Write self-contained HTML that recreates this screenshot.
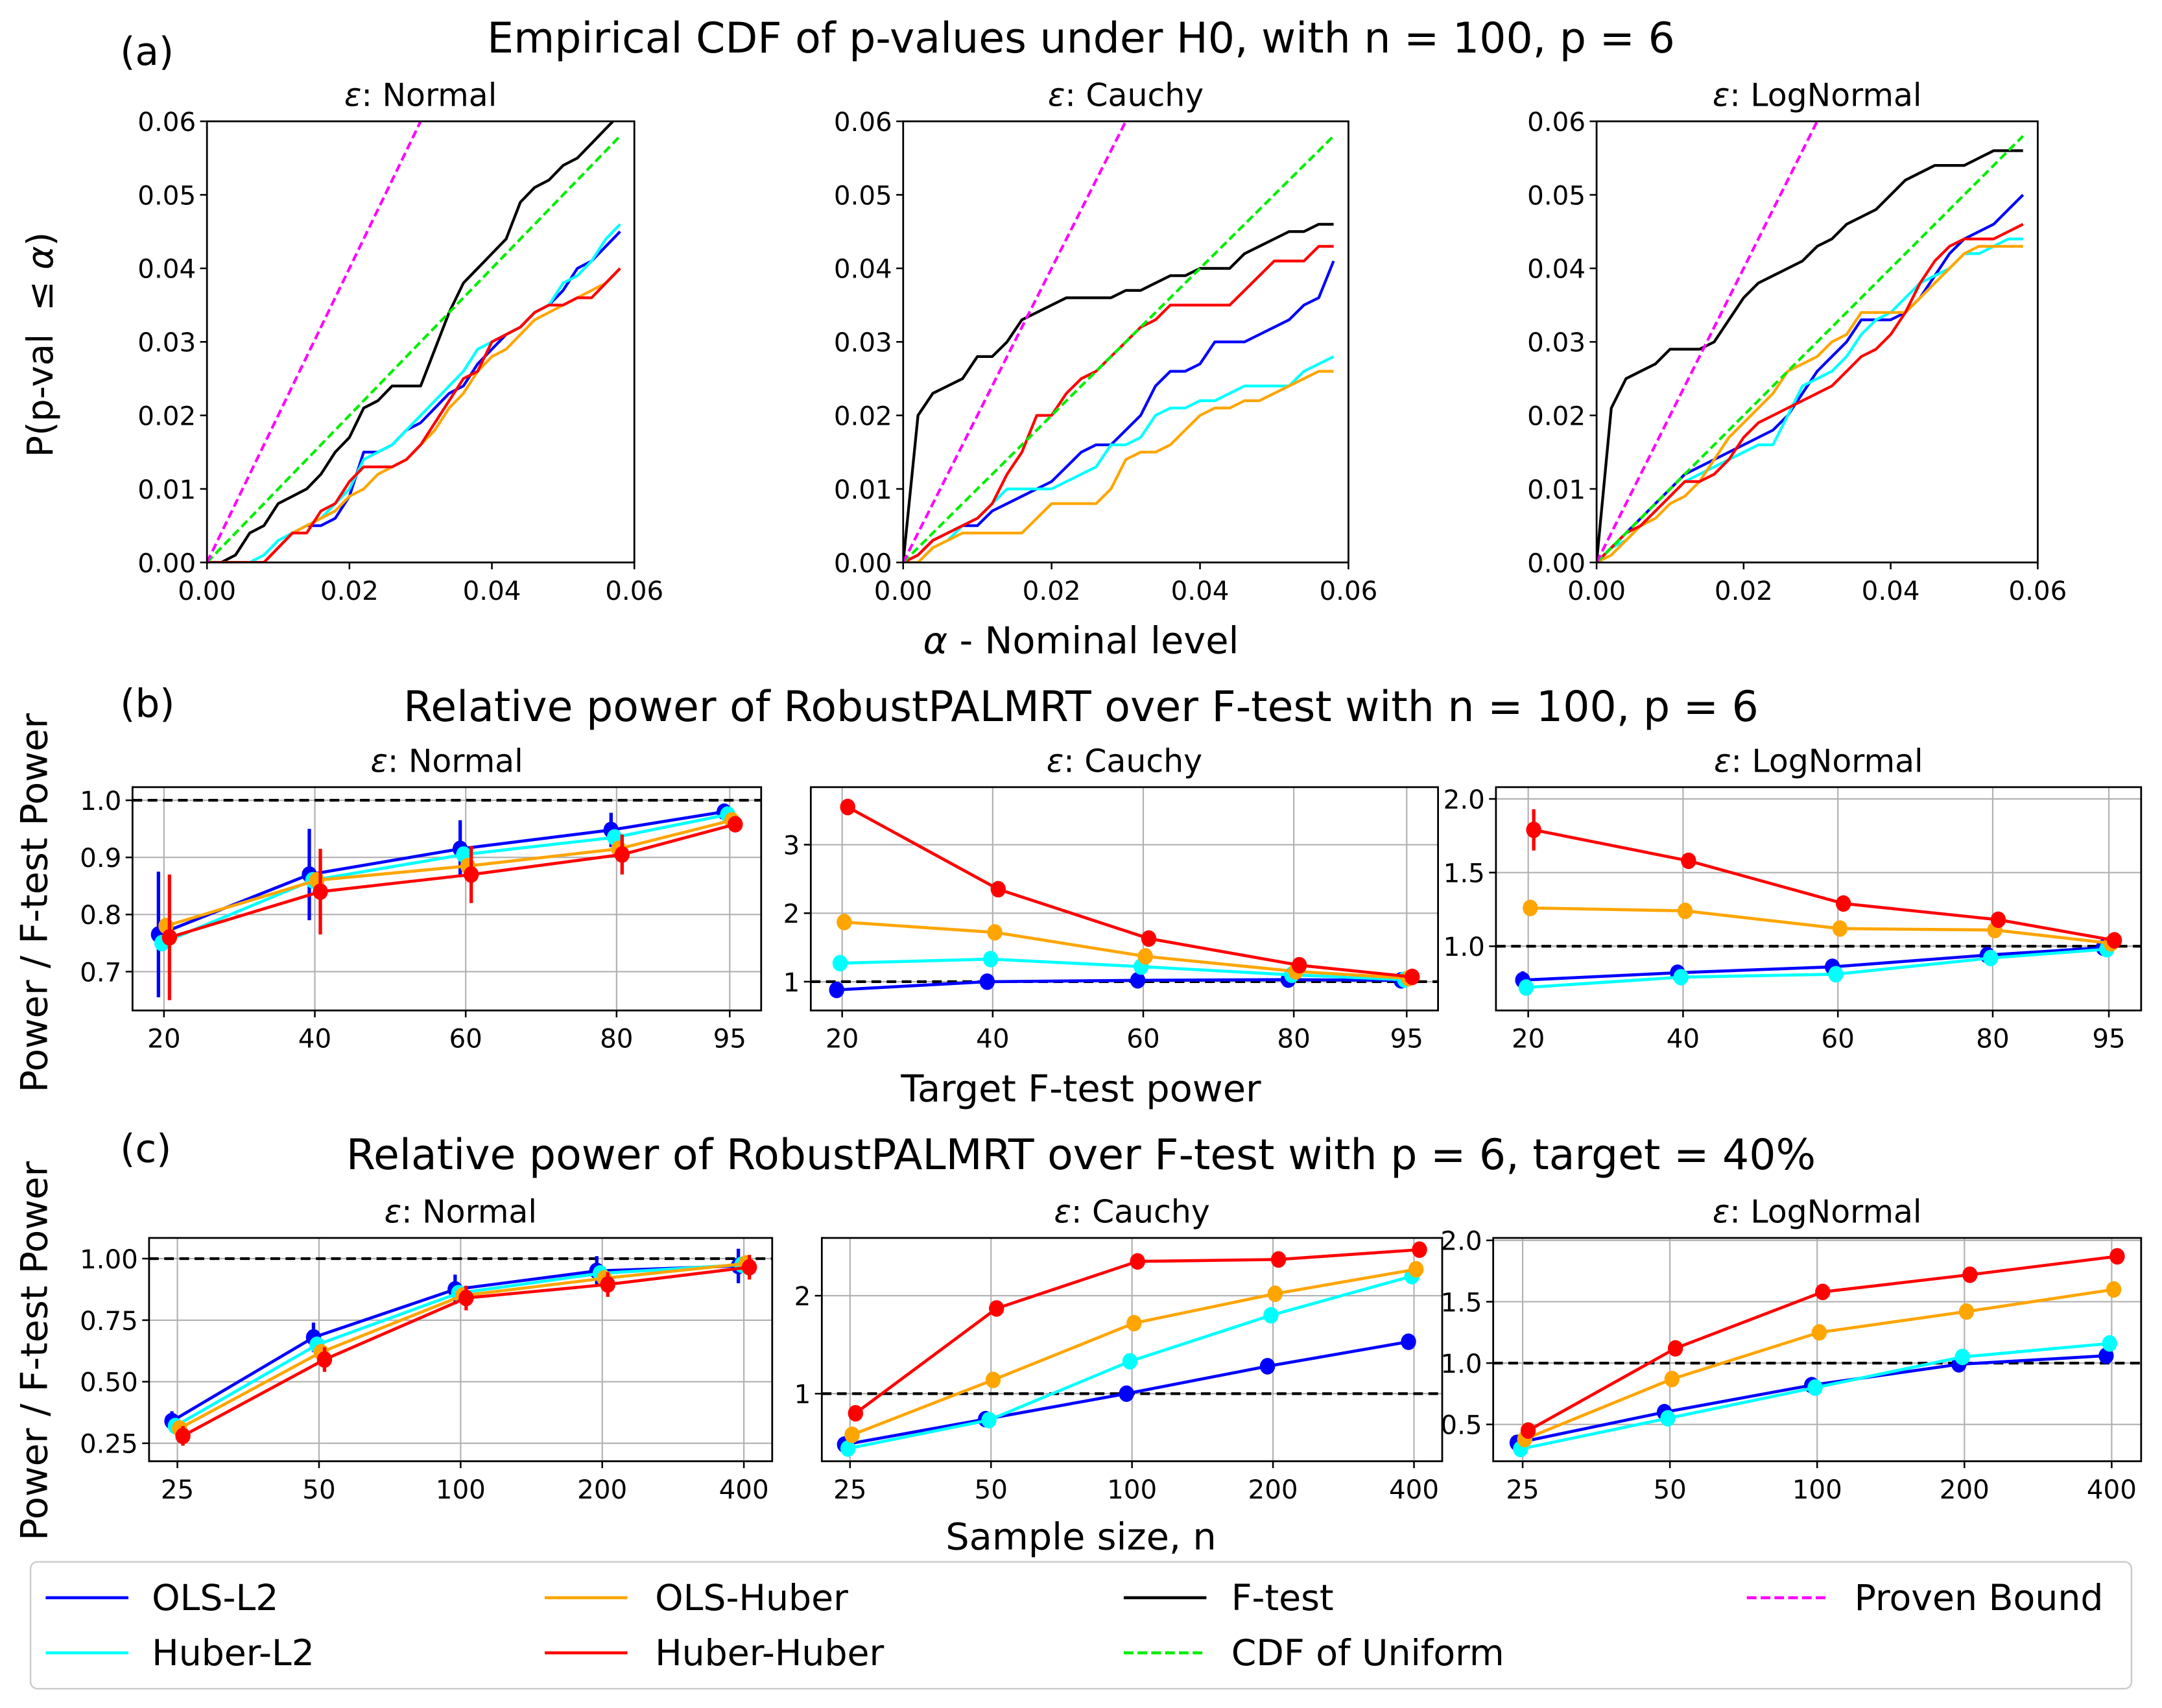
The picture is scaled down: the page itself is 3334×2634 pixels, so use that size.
<!DOCTYPE html>
<html><head><meta charset="utf-8">
<style>
html,body{margin:0;padding:0;background:#fff;}
svg{display:block;}
text{font-family:"DejaVu Sans","Liberation Sans",sans-serif;fill:#000;}
</style></head>
<body>
<svg id="fig" width="3334" height="2634" viewBox="0 0 1568 1239" xmlns="http://www.w3.org/2000/svg">
<rect width="1568" height="1239" fill="#fff"/>
<text x="87" y="47" font-size="28">(a)</text>
<text x="784" y="38" font-size="30.5" text-anchor="middle">Empirical CDF of p-values under H0, with n = 100, p = 6</text>
<text x="87" y="520" font-size="28">(b)</text>
<text x="784" y="523" font-size="30.5" text-anchor="middle">Relative power of RobustPALMRT over F-test with n = 100, p = 6</text>
<text x="87" y="843" font-size="28">(c)</text>
<text x="784" y="848" font-size="30.5" text-anchor="middle">Relative power of RobustPALMRT over F-test with p = 6, target = 40%</text>
<text transform="translate(38,250) rotate(-90)" font-size="26" text-anchor="middle" xml:space="preserve">P(p-val  ≤ <tspan font-style="italic">α</tspan>)</text>
<text x="784" y="474" font-size="27" text-anchor="middle"><tspan font-style="italic">α</tspan> - Nominal level</text>
<text transform="translate(34,655) rotate(-90)" font-size="27" text-anchor="middle">Power / F-test Power</text>
<text x="784" y="799" font-size="27" text-anchor="middle">Target F-test power</text>
<text transform="translate(34,980) rotate(-90)" font-size="27" text-anchor="middle">Power / F-test Power</text>
<text x="784" y="1124" font-size="27" text-anchor="middle">Sample size, n</text>
<g id="legend">
<rect x="22" y="1133" width="1524" height="92" rx="5" fill="#fff" stroke="#ccc" stroke-width="1.2"/>
<g><line x1="33" y1="1159" x2="93" y2="1159" stroke="#0000ff" stroke-width="2.2"/><text x="110" y="1168" font-size="26">OLS-L2</text></g>
<g><line x1="33" y1="1199" x2="93" y2="1199" stroke="#00ffff" stroke-width="2.2"/><text x="110" y="1208" font-size="26">Huber-L2</text></g>
<g><line x1="395" y1="1159" x2="455" y2="1159" stroke="#ffa500" stroke-width="2.2"/><text x="475" y="1168" font-size="26">OLS-Huber</text></g>
<g><line x1="395" y1="1199" x2="455" y2="1199" stroke="#ff0000" stroke-width="2.2"/><text x="475" y="1208" font-size="26">Huber-Huber</text></g>
<g><line x1="815" y1="1159" x2="875" y2="1159" stroke="#000" stroke-width="2.2"/><text x="893" y="1168" font-size="26">F-test</text></g>
<g><line x1="815" y1="1199" x2="875" y2="1199" stroke="#00ee00" stroke-width="2.2" stroke-dasharray="7,3"/><text x="893" y="1208" font-size="26">CDF of Uniform</text></g>
<g><line x1="1267" y1="1159" x2="1327" y2="1159" stroke="#ff00ff" stroke-width="2.2" stroke-dasharray="7,3"/><text x="1345" y="1168" font-size="26">Proven Bound</text></g>
</g>
</svg>
<script>
// ---------- Row (a) data ----------
const alphas = [0,.002,.004,.006,.008,.010,.012,.014,.016,.018,.020,.022,.024,.026,.028,.030,.032,.034,.036,.038,.040,.042,.044,.046,.048,.050,.052,.054,.056,.058];
const aNormalF = [0,0,.001,.004,.005,.008,.009,.010,.012,.015,.017,.021,.022,.024,.024,.024,.029,.034,.038,.040,.042,.044,.049,.051,.052,.054,.055,.057,.059,.061];
const aNormalOLSL2 = [0,0,0,0,0,.002,.004,.005,.005,.006,.009,.015,.015,.016,.018,.019,.021,.023,.024,.027,.029,.031,.032,.034,.035,.037,.040,.041,.043,.045];
const aNormalHuberL2 = [0,0,0,0,.001,.003,.004,.005,.006,.008,.010,.014,.015,.016,.018,.020,.022,.024,.026,.029,.030,.031,.032,.034,.035,.038,.039,.041,.044,.046];
const aNormalOLSHuber = [0,0,0,0,0,.002,.004,.005,.006,.007,.009,.010,.012,.013,.014,.016,.018,.021,.023,.026,.028,.029,.031,.033,.034,.035,.036,.037,.038,.040];
const aNormalHuberHuber = [0,0,0,0,0,.002,.004,.004,.007,.008,.011,.013,.013,.013,.014,.016,.019,.022,.025,.026,.030,.031,.032,.034,.035,.035,.036,.036,.038,.040];
const aCauchyF = [0,.020,.023,.024,.025,.028,.028,.030,.033,.034,.035,.036,.036,.036,.036,.037,.037,.038,.039,.039,.040,.040,.040,.042,.043,.044,.045,.045,.046,.046];
const aCauchyOLSL2 = [0,.001,.003,.004,.005,.005,.007,.008,.009,.010,.011,.013,.015,.016,.016,.018,.020,.024,.026,.026,.027,.030,.030,.030,.031,.032,.033,.035,.036,.041];
const aCauchyHuberL2 = [0,0,.002,.003,.005,.006,.008,.010,.010,.010,.010,.011,.012,.013,.016,.016,.017,.020,.021,.021,.022,.022,.023,.024,.024,.024,.024,.026,.027,.028];
const aCauchyOLSHuber = [0,0,.002,.003,.004,.004,.004,.004,.004,.006,.008,.008,.008,.008,.010,.014,.015,.015,.016,.018,.020,.021,.021,.022,.022,.023,.024,.025,.026,.026];
const aCauchyHuberHuber = [0,.001,.003,.004,.005,.006,.008,.012,.015,.020,.020,.023,.025,.026,.028,.030,.032,.033,.035,.035,.035,.035,.035,.037,.039,.041,.041,.041,.043,.043];
const aLogF = [0,.021,.025,.026,.027,.029,.029,.029,.030,.033,.036,.038,.039,.040,.041,.043,.044,.046,.047,.048,.050,.052,.053,.054,.054,.054,.055,.056,.056,.056];
const aLogOLSL2 = [0,.002,.004,.006,.008,.010,.012,.013,.014,.015,.016,.017,.018,.020,.023,.026,.028,.030,.033,.033,.033,.034,.036,.039,.042,.044,.045,.046,.048,.050];
const aLogHuberL2 = [0,.002,.003,.005,.007,.009,.011,.012,.013,.014,.015,.016,.016,.020,.024,.025,.026,.028,.031,.033,.034,.036,.038,.039,.040,.042,.042,.043,.044,.044];
const aLogOLSHuber = [0,.001,.003,.005,.006,.008,.009,.011,.014,.017,.019,.021,.023,.026,.027,.028,.030,.031,.034,.034,.034,.034,.036,.038,.040,.042,.043,.043,.043,.043];
const aLogHuberHuber = [0,.002,.004,.005,.007,.009,.011,.011,.012,.014,.017,.019,.020,.021,.022,.023,.024,.026,.028,.029,.031,.034,.038,.041,.043,.044,.044,.044,.045,.046];
const uniformX = [0,.058];
const boundX = [0,.03];

// ---------- Row (b) data ----------
const bTargets = [20,40,60,80,95];
const bTickLabels = ["20","40","60","80","95"];
const bNormOLSL2 = [.765,.87,.915,.948,.98];
const bNormHuberL2 = [.75,.86,.905,.935,.975];
const bNormOLSHuber = [.78,.86,.885,.915,.965];
const bNormHuberHuber = [.76,.84,.87,.905,.958];
const bNormErrOLSL2 = [.11,.08,.05,.03,.012];
const bNormErrHuberHuber = [.11,.075,.05,.035,.012];
const bCauOLSL2 = [.88,1.0,1.02,1.03,1.02];
const bCauHuberL2 = [1.27,1.33,1.22,1.1,1.03];
const bCauOLSHuber = [1.87,1.72,1.37,1.15,1.05];
const bCauHuberHuber = [3.55,2.35,1.63,1.24,1.07];
const bLogOLSL2 = [.77,.82,.86,.94,.99];
const bLogHuberL2 = [.72,.79,.81,.92,.98];
const bLogOLSHuber = [1.26,1.24,1.12,1.11,1.02];
const bLogHuberHuber = [1.79,1.58,1.29,1.18,1.04];
const bLogErrOLSL2 = [.06,.02,.02,.01,.01];
const bLogErrHuberHuber = [.14,.04,.02,.02,.01];

// ---------- Row (c) data ----------
const cSizes = [0,1,2,3,4];
const cTickLabels = ["25","50","100","200","400"];
const cNormOLSL2 = [.34,.68,.875,.95,.97];
const cNormHuberL2 = [.32,.65,.86,.94,.975];
const cNormOLSHuber = [.31,.62,.85,.92,.98];
const cNormHuberHuber = [.28,.59,.84,.895,.965];
const cNormErrOLSL2 = [.04,.06,.06,.06,.07];
const cNormErrHuberHuber = [.04,.05,.05,.05,.05];
const cCauOLSL2 = [.48,.74,1.0,1.28,1.53];
const cCauHuberL2 = [.44,.73,1.33,1.8,2.2];
const cCauOLSHuber = [.58,1.14,1.72,2.02,2.27];
const cCauHuberHuber = [.8,1.87,2.35,2.37,2.47];
const cLogOLSL2 = [.35,.6,.82,.99,1.06];
const cLogHuberL2 = [.3,.55,.8,1.05,1.16];
const cLogOLSHuber = [.38,.87,1.25,1.42,1.6];
const cLogHuberHuber = [.45,1.12,1.58,1.72,1.87];

const NS = "http://www.w3.org/2000/svg";
const svg = document.getElementById('fig');
const COL = {ols:'#0000ff', hub:'#00ffff', oh:'#ffa500', hh:'#ff0000'};

function mk(tag, attrs, parent){
  const e = document.createElementNS(NS, tag);
  for (const k in attrs) e.setAttribute(k, attrs[k]);
  (parent||svg).appendChild(e);
  return e;
}

function axes(cfg){
  const g = mk('g', {});
  
  
  const sx = v => cfg.x0 + (v - cfg.xmin)/(cfg.xmax - cfg.xmin)*(cfg.x1 - cfg.x0);
  const sy = v => cfg.y1 - (v - cfg.ymin)/(cfg.ymax - cfg.ymin)*(cfg.y1 - cfg.y0);
  if (cfg.grid){
    cfg.xticks.forEach(t => {
      const l = mk('line', {x1:sx(t), x2:sx(t), y1:cfg.y0, y2:cfg.y1, stroke:'#b0b0b0', 'stroke-width':1}, g);
      
      
    });
    cfg.yticks.forEach(t => {
      const l = mk('line', {x1:cfg.x0, x2:cfg.x1, y1:sy(t), y2:sy(t), stroke:'#b0b0b0', 'stroke-width':1}, g);
      
      
    });
  }
  cfg.xticks.forEach((t,i) => {
    mk('line', {x1:sx(t), x2:sx(t), y1:cfg.y1, y2:cfg.y1+5, stroke:'#000', 'stroke-width':1.2}, g);
    const tx = mk('text', {x:sx(t), y:cfg.y1+27, 'font-size':19, 'text-anchor':'middle'}, g);
    tx.textContent = cfg.xlabels[i];
    
    
  });
  cfg.yticks.forEach((t,i) => {
    mk('line', {x1:cfg.x0-5, x2:cfg.x0, y1:sy(t), y2:sy(t), stroke:'#000', 'stroke-width':1.2}, g);
    const tx = mk('text', {x:cfg.x0-8, y:sy(t)+7, 'font-size':19, 'text-anchor':'end'}, g);
    tx.textContent = cfg.ylabels[i];
    
    
  });
  const tt = mk('text', {x:(cfg.x0+cfg.x1)/2, y:cfg.y0-11, 'font-size':23, 'text-anchor':'middle'}, g);
  tt.innerHTML = '<tspan font-style="italic">ε</tspan>: ' + cfg.title;
  
  
  const plot = mk('g', {}, g);
  const clipId = 'clip' + Math.round(cfg.x0) + '_' + Math.round(cfg.y0);
  const cp = mk('clipPath', {id:clipId}, g);
  mk('rect', {x:cfg.x0, y:cfg.y0, width:cfg.x1-cfg.x0, height:cfg.y1-cfg.y0}, cp);
  plot.setAttribute('clip-path', 'url(#'+clipId+')');
  const frame = () => {
    const r = mk('rect', {x:cfg.x0, y:cfg.y0, width:cfg.x1-cfg.x0, height:cfg.y1-cfg.y0, fill:'none', stroke:'#000', 'stroke-width':1.3}, g);
    
    
  };
  return {sx, sy, plot, g, frame, cfg};
}

function line(ax, xs, ys, color, name, dash){
  const pts = xs.map((x,i) => ax.sx(x).toFixed(2)+','+ax.sy(ys[i]).toFixed(2)).join(' ');
  const p = mk('polyline', {points:pts, fill:'none', stroke:color, 'stroke-width':2, 'stroke-linejoin':'round'}, ax.plot);
  if (dash) p.setAttribute('stroke-dasharray', dash);
  
  
}

function hline(ax, v){
  const l = mk('line', {x1:ax.cfg.x0, x2:ax.cfg.x1, y1:ax.sy(v), y2:ax.sy(v), stroke:'#000', 'stroke-width':2, 'stroke-dasharray':'7,4'}, ax.plot);
  
  
}

function series(ax, xs, ys, color, off, name, errs){
  const pts = xs.map((x,i) => (ax.sx(x)+off).toFixed(2)+','+ax.sy(ys[i]).toFixed(2)).join(' ');
  const p = mk('polyline', {points:pts, fill:'none', stroke:color, 'stroke-width':2.2}, ax.plot);
  
  
  xs.forEach((x,i) => {
    const cx = ax.sx(x)+off, cy = ax.sy(ys[i]);
    if (errs){
      const e = mk('line', {x1:cx, x2:cx, y1:ax.sy(ys[i]-errs[i]), y2:ax.sy(ys[i]+errs[i]), stroke:color, 'stroke-width':2.5}, ax.plot);
      
      
    }
    const c = mk('ellipse', {cx:cx, cy:cy, rx:5.5, ry:6, fill:color}, ax.plot);
    
    
  });
}

// ---------- Row (a) ----------
const aTicks = [0,.02,.04,.06], aLabels = ["0.00","0.02","0.04","0.06"];
const aYTicks = [0,.01,.02,.03,.04,.05,.06], aYLabels = ["0.00","0.01","0.02","0.03","0.04","0.05","0.06"];
const aPanels = [
  {x0:150,x1:460,title:'Normal',name:'panel-a-normal',d:[aNormalOLSL2,aNormalHuberL2,aNormalOLSHuber,aNormalHuberHuber,aNormalF]},
  {x0:655,x1:978,title:'Cauchy',name:'panel-a-cauchy',d:[aCauchyOLSL2,aCauchyHuberL2,aCauchyOLSHuber,aCauchyHuberHuber,aCauchyF]},
  {x0:1158,x1:1478,title:'LogNormal',name:'panel-a-lognormal',d:[aLogOLSL2,aLogHuberL2,aLogOLSHuber,aLogHuberHuber,aLogF]}
];
aPanels.forEach(P => {
  const ax = axes({name:P.name, title:P.title, x0:P.x0, x1:P.x1, y0:88, y1:408, xmin:0, xmax:.06, ymin:0, ymax:.06,
    xticks:aTicks, xlabels:aLabels, yticks:aYTicks, ylabels:aYLabels, grid:false});
  line(ax, alphas, P.d[4], '#000', 'f-test-line');
  line(ax, alphas, P.d[0], COL.ols, 'ols-l2-line');
  line(ax, alphas, P.d[1], COL.hub, 'huber-l2-line');
  line(ax, alphas, P.d[2], COL.oh, 'ols-huber-line');
  line(ax, alphas, P.d[3], COL.hh, 'huber-huber-line');
  line(ax, uniformX, uniformX, '#00ee00', 'uniform-cdf-line', '6,3');
  line(ax, boundX, boundX.map(v=>2*v), '#ff00ff', 'proven-bound-line', '6,3');
  ax.frame();
});

// ---------- Row (b) ----------
const offs = [-4,-1.5,1.5,4];
const bPad = 75*0.05/0.9;
const bPanels = [
  {x0:96,x1:552,title:'Normal',name:'panel-b-normal',ymin:.632,ymax:1.023,yt:[.7,.8,.9,1.0],yl:["0.7","0.8","0.9","1.0"],
   d:[bNormOLSL2,bNormHuberL2,bNormOLSHuber,bNormHuberHuber],e:[bNormErrOLSL2,null,null,bNormErrHuberHuber]},
  {x0:588,x1:1043,title:'Cauchy',name:'panel-b-cauchy',ymin:.58,ymax:3.84,yt:[1,2,3],yl:["1","2","3"],
   d:[bCauOLSL2,bCauHuberL2,bCauOLSHuber,bCauHuberHuber],e:[null,null,null,null]},
  {x0:1085,x1:1553,title:'LogNormal',name:'panel-b-lognormal',ymin:.564,ymax:2.08,yt:[1.0,1.5,2.0],yl:["1.0","1.5","2.0"],
   d:[bLogOLSL2,bLogHuberL2,bLogOLSHuber,bLogHuberHuber],e:[bLogErrOLSL2,null,null,bLogErrHuberHuber]}
];
bPanels.forEach(P => {
  const ax = axes({name:P.name, title:P.title, x0:P.x0, x1:P.x1, y0:571, y1:733,
    xmin:20-bPad, xmax:95+bPad,
    ymin:P.ymin, ymax:P.ymax, xticks:bTargets, xlabels:bTickLabels, yticks:P.yt, ylabels:P.yl, grid:true});
  hline(ax, 1);
  const names = ['ols-l2','huber-l2','ols-huber','huber-huber'];
  const cols = [COL.ols, COL.hub, COL.oh, COL.hh];
  for (let k=0;k<4;k++) series(ax, bTargets, P.d[k], cols[k], offs[k], names[k], P.e[k]);
  ax.frame();
});

// ---------- Row (c) ----------
const cPanels = [
  {x0:108,x1:560,title:'Normal',name:'panel-c-normal',ymin:.177,ymax:1.084,yt:[.25,.5,.75,1.0],yl:["0.25","0.50","0.75","1.00"],
   d:[cNormOLSL2,cNormHuberL2,cNormOLSHuber,cNormHuberHuber],e:[cNormErrOLSL2,null,null,cNormErrHuberHuber]},
  {x0:596,x1:1046,title:'Cauchy',name:'panel-c-cauchy',ymin:.31,ymax:2.59,yt:[1,2],yl:["1","2"],
   d:[cCauOLSL2,cCauHuberL2,cCauOLSHuber,cCauHuberHuber],e:[null,null,null,null]},
  {x0:1083,x1:1553,title:'LogNormal',name:'panel-c-lognormal',ymin:.2,ymax:2.02,yt:[.5,1.0,1.5,2.0],yl:["0.5","1.0","1.5","2.0"],
   d:[cLogOLSL2,cLogHuberL2,cLogOLSHuber,cLogHuberHuber],e:[null,null,null,null]}
];
cPanels.forEach(P => {
  const ax = axes({name:P.name, title:P.title, x0:P.x0, x1:P.x1, y0:898, y1:1060,
    xmin:-0.2, xmax:4.2, ymin:P.ymin, ymax:P.ymax, xticks:cSizes, xlabels:cTickLabels, yticks:P.yt, ylabels:P.yl, grid:true});
  hline(ax, 1);
  const names = ['ols-l2','huber-l2','ols-huber','huber-huber'];
  const cols = [COL.ols, COL.hub, COL.oh, COL.hh];
  for (let k=0;k<4;k++) series(ax, cSizes, P.d[k], cols[k], offs[k], names[k], P.e[k]);
  ax.frame();
});
</script>
</body></html>
